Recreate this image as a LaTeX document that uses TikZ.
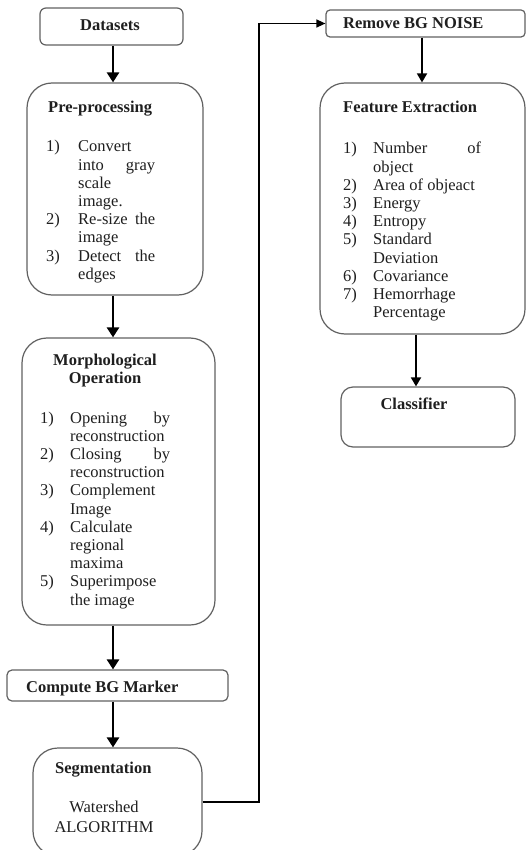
\documentclass[tikz,border=0pt]{standalone}
\usepackage{fontspec}
\setmainfont{Liberation Serif}
\usetikzlibrary{arrows.meta}
\begin{document}
\begin{tikzpicture}[x=1pt,y=-1pt,
  box/.style={draw=black!62, line width=1.2pt, rectangle, inner sep=0pt, fill=white},
  txt/.style={inner sep=0pt, font=\fontsize{16.5}{18.2}\selectfont, text=black!88},
  ttl/.style={txt, font=\fontsize{16.5}{18.2}\selectfont\bfseries},
  arrL/.style={line width=2.6pt, -{Triangle[length=10pt,width=12pt]}},
  arrR/.style={line width=1.8pt, -{Triangle[length=9pt,width=10pt]}},
  link/.style={line width=1.3pt, -{Triangle[length=9pt,width=8pt]}}
]
\useasboundingbox (0,0) rectangle (526,850);
\fill[white] (0,0) rectangle (526,850);

% boxes
\node[box, rounded corners=6pt, minimum width=143pt, minimum height=37pt] (ds) at (111.5,26.5) {};
\node[box, rounded corners=25pt, minimum width=176pt, minimum height=212pt] (pre) at (115,189) {};
\node[box, rounded corners=25pt, minimum width=193pt, minimum height=287pt] (mor) at (118.5,481.5) {};
\node[box, rounded corners=5pt, minimum width=221pt, minimum height=31pt] (cbg) at (117.5,685.5) {};
\node[box, rounded corners=25pt, minimum width=169pt, minimum height=108pt] (seg) at (117.5,802) {};
\node[box, rounded corners=4pt, minimum width=199pt, minimum height=27pt] (rem) at (425.5,23.5) {};
\node[box, rounded corners=25pt, minimum width=205pt, minimum height=251pt] (fea) at (422.5,208.5) {};
\node[box, rounded corners=12pt, minimum width=174pt, minimum height=60pt] (cls) at (428,417) {};

% column coordinates
\coordinate (lx) at (113,0);
\coordinate (rx1) at (422,0);
\coordinate (rx2) at (416,0);
\coordinate (jx) at (259,23.5);

% texts
\node[ttl, anchor=base] (dst) at (110,31) {Datasets};

\node[ttl, anchor=base west] (pret) at (48,113) {Pre-processing};
\node[txt, anchor=base west] (prel) at (46,152) {%
\begin{tabular}[t]{@{}p{32pt}@{}l@{}}
1) & Convert\\
   & \makebox[77pt]{into\hfill gray}\\
   & scale\\
   & image.\\
2) & \makebox[77pt]{Re-size\hfill the}\\
   & image\\
3) & \makebox[77pt]{Detect\hfill the}\\
   & edges
\end{tabular}};

\node[ttl, anchor=base] (mort1) at (105,365) {Morphological};
\node[ttl, anchor=base] (mort2) at (105,383.2) {Operation};
\node[txt, anchor=base west] (morl) at (40,423) {%
\begin{tabular}[t]{@{}p{30pt}@{}l@{}}
1) & \makebox[100pt]{Opening\hfill by}\\
   & reconstruction\\
2) & \makebox[100pt]{Closing\hfill by}\\
   & reconstruction\\
3) & Complement\\
   & Image\\
4) & Calculate\\
   & regional\\
   & maxima\\
5) & Superimpose\\
   & the image
\end{tabular}};

\node[ttl, anchor=base west] (cbgt) at (26,692) {Compute BG Marker};

\node[ttl, anchor=base west] (segt) at (55,773) {Segmentation};
\node[txt, anchor=base] (segl1) at (104,812) {Watershed};
\node[txt, anchor=base] (segl2) at (104,832) {ALGORITHM};

\node[ttl, anchor=base west] (remt) at (343,29) {Remove BG NOISE};

\node[ttl, anchor=base west] (feat) at (343,113) {Feature Extraction};
\node[txt, anchor=base west] (feal) at (343,154) {%
\begin{tabular}[t]{@{}p{30pt}@{}l@{}}
1) & \makebox[108pt]{Number\hfill of}\\
   & object\\
2) & Area of objeact\\
3) & Energy\\
4) & Entropy\\
5) & Standard\\
   & Deviation\\
6) & Covariance\\
7) & Hemorrhage\\
   & Percentage
\end{tabular}};

\node[ttl, anchor=base] (clst) at (414,409) {Classifier};

% connectors
\draw[arrL] (ds.south -| lx) -- (pre.north -| lx);
\draw[arrL] (pre.south -| lx) -- (mor.north -| lx);
\draw[arrL] (mor.south -| lx) -- (cbg.north -| lx);
\draw[arrL] (cbg.south -| lx) -- (seg.north -| lx);
\draw[link] (seg.east) -| (jx) -- (rem.west);
\draw[arrR] (rem.south -| rx1) -- (fea.north -| rx1);
\draw[arrR] (fea.south -| rx2) -- (cls.north -| rx2);
\end{tikzpicture}
\end{document}
